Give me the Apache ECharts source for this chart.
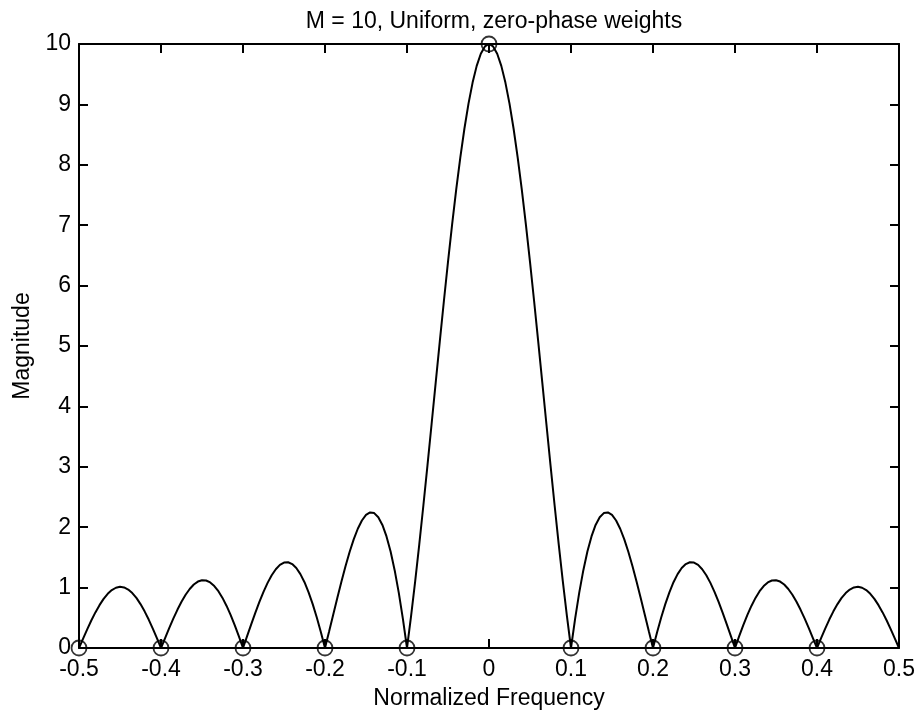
<!DOCTYPE html>
<html>
<head>
<meta charset="utf-8">
<script src="https://cdn.jsdelivr.net/npm/echarts@6/dist/echarts.min.js"></script>
<style>html,body{margin:0;padding:0;background:#fff;}#chart{width:919px;height:715px;}</style>
</head>
<body>
<div id="chart"></div>
<script>
var freq = [
-0.5,-0.495,-0.49,-0.485,-0.48,-0.475,-0.47,-0.465,-0.46,-0.455,
-0.45,-0.445,-0.44,-0.435,-0.43,-0.425,-0.42,-0.415,-0.41,-0.405,
-0.4,-0.395,-0.39,-0.385,-0.38,-0.375,-0.37,-0.365,-0.36,-0.355,
-0.35,-0.345,-0.34,-0.335,-0.33,-0.325,-0.32,-0.315,-0.31,-0.305,
-0.3,-0.295,-0.29,-0.285,-0.28,-0.275,-0.27,-0.265,-0.26,-0.255,
-0.25,-0.245,-0.24,-0.235,-0.23,-0.225,-0.22,-0.215,-0.21,-0.205,
-0.2,-0.195,-0.19,-0.185,-0.18,-0.175,-0.17,-0.165,-0.16,-0.155,
-0.15,-0.145,-0.14,-0.135,-0.13,-0.125,-0.12,-0.115,-0.11,-0.105,
-0.1,-0.095,-0.09,-0.085,-0.08,-0.075,-0.07,-0.065,-0.06,-0.055,
-0.05,-0.045,-0.04,-0.035,-0.03,-0.025,-0.02,-0.015,-0.01,-0.005,
0,
0.005,0.01,0.015,0.02,0.025,0.03,0.035,0.04,0.045,0.05,
0.055,0.06,0.065,0.07,0.075,0.08,0.085,0.09,0.095,0.1,
0.105,0.11,0.115,0.12,0.125,0.13,0.135,0.14,0.145,0.15,
0.155,0.16,0.165,0.17,0.175,0.18,0.185,0.19,0.195,0.2,
0.205,0.21,0.215,0.22,0.225,0.23,0.235,0.24,0.245,0.25,
0.255,0.26,0.265,0.27,0.275,0.28,0.285,0.29,0.295,0.3,
0.305,0.31,0.315,0.32,0.325,0.33,0.335,0.34,0.345,0.35,
0.355,0.36,0.365,0.37,0.375,0.38,0.385,0.39,0.395,0.4,
0.405,0.41,0.415,0.42,0.425,0.43,0.435,0.44,0.445,0.45,
0.455,0.46,0.465,0.47,0.475,0.48,0.485,0.49,0.495,0.5
];
var magnitude = [
0,0.1565,0.3092,0.4545,0.5890,0.7093,0.8126,0.8964,0.9586,0.9976,
1.0125,1.0026,0.9682,0.9099,0.8290,0.7272,0.6069,0.4707,0.3218,0.1637,
0,0.1653,0.3284,0.4853,0.6322,0.7654,0.8815,0.9776,1.0511,1.0998,
1.1223,1.1176,1.0853,1.0258,0.9399,0.8293,0.6962,0.5432,0.3736,0.1912,
0,0.1956,0.3911,0.5817,0.7629,0.9299,1.0785,1.2047,1.3047,1.3754,
1.4142,1.4193,1.3893,1.3239,1.2234,1.0888,0.9221,0.7261,0.5042,0.2605,
0,0.2721,0.5498,0.8269,1.0970,1.3533,1.5893,1.7983,1.9742,2.1108,
2.2027,2.2451,2.2337,2.1652,2.0371,1.8478,1.5967,1.2844,0.9123,0.4829,
0,0.5320,1.1076,1.7205,2.3635,3.0290,3.7087,4.3938,5.0755,5.7447,
6.3925,7.0098,7.5883,8.1197,8.5967,9.0124,9.3610,9.6377,9.8380,9.9596,
10,
9.9596,9.8380,9.6377,9.3610,9.0124,8.5967,8.1197,7.5883,7.0098,6.3925,
5.7447,5.0755,4.3938,3.7087,3.0290,2.3635,1.7205,1.1076,0.5320,0,
0.4829,0.9123,1.2844,1.5967,1.8478,2.0371,2.1652,2.2337,2.2451,2.2027,
2.1108,1.9742,1.7983,1.5893,1.3533,1.0970,0.8269,0.5498,0.2721,0,
0.2605,0.5042,0.7261,0.9221,1.0888,1.2234,1.3239,1.3893,1.4193,1.4142,
1.3754,1.3047,1.2047,1.0785,0.9299,0.7629,0.5817,0.3911,0.1956,0,
0.1912,0.3736,0.5432,0.6962,0.8293,0.9399,1.0258,1.0853,1.1176,1.1223,
1.0998,1.0511,0.9776,0.8815,0.7654,0.6322,0.4853,0.3284,0.1653,0,
0.1637,0.3218,0.4707,0.6069,0.7272,0.8290,0.9099,0.9682,1.0026,1.0125,
0.9976,0.9586,0.8964,0.8126,0.7093,0.5890,0.4545,0.3092,0.1565,0
];
var sampleFreq = [-0.5,-0.4,-0.3,-0.2,-0.1,0,0.1,0.2,0.3,0.4];
var sampleMag = [0,0,0,0,0,10,0,0,0,0];
var titleText = 'M = 10, Uniform, zero-phase weights';
var xName = 'Normalized Frequency';
var yName = 'Magnitude';

var FONT = "'Liberation Sans', Arial, Helvetica, sans-serif";
var FS = 23;
var chart = echarts.init(document.getElementById('chart'), null, {renderer: 'canvas'});

var lineData = freq.map(function (f, i) { return [f, magnitude[i]]; });
var sampleData = sampleFreq.map(function (f, i) { return [f, sampleMag[i]]; });

var axisLineStyle = {color: '#000', width: 2};
var tickCommon = {show: true, inside: true, length: 9, lineStyle: {color: '#000', width: 2}};

chart.setOption({
  animation: false,
  backgroundColor: '#fff',
  title: {
    text: titleText,
    left: 489,
    top: 5,
    textAlign: 'center',
    textStyle: {fontFamily: FONT, fontSize: FS, fontWeight: 'normal', color: '#000'}
  },
  grid: {left: 79, right: 20, top: 44, bottom: 65, containLabel: false},
  xAxis: [
    {
      type: 'value', min: -0.5, max: 0.5, interval: 0.1, position: 'bottom',
      axisLine: {show: true, onZero: false, lineStyle: axisLineStyle},
      axisTick: tickCommon,
      axisLabel: {show: true, color: '#000', fontFamily: FONT, fontSize: FS, margin: 10},
      splitLine: {show: false},
      name: xName, nameLocation: 'middle', nameGap: 39,
      nameTextStyle: {color: '#000', fontFamily: FONT, fontSize: FS}
    },
    {
      type: 'value', min: -0.5, max: 0.5, interval: 0.1, position: 'top',
      axisLine: {show: true, onZero: false, lineStyle: axisLineStyle},
      axisTick: tickCommon,
      axisLabel: {show: false},
      splitLine: {show: false}
    }
  ],
  yAxis: [
    {
      type: 'value', min: 0, max: 10, interval: 1, position: 'left',
      axisLine: {show: true, onZero: false, lineStyle: axisLineStyle},
      axisTick: tickCommon,
      axisLabel: {show: true, color: '#000', fontFamily: FONT, fontSize: FS, margin: 8},
      splitLine: {show: false},
      name: yName, nameLocation: 'middle', nameGap: 42, nameRotate: 90,
      nameTextStyle: {color: '#000', fontFamily: FONT, fontSize: FS}
    },
    {
      type: 'value', min: 0, max: 10, interval: 1, position: 'right',
      axisLine: {show: true, onZero: false, lineStyle: axisLineStyle},
      axisTick: tickCommon,
      axisLabel: {show: false},
      splitLine: {show: false}
    }
  ],
  series: [
    {
      type: 'line',
      xAxisIndex: 0, yAxisIndex: 0,
      data: lineData,
      showSymbol: false,
      symbol: 'none',
      lineStyle: {color: '#000', width: 2},
      clip: false,
      z: 3
    },
    {
      type: 'scatter',
      xAxisIndex: 0, yAxisIndex: 0,
      data: sampleData,
      symbol: 'circle',
      symbolSize: 15,
      itemStyle: {color: 'rgba(0,0,0,0)', borderColor: '#000', borderWidth: 1.8},
      clip: false,
      z: 4
    }
  ]
});
</script>
</body>
</html>
